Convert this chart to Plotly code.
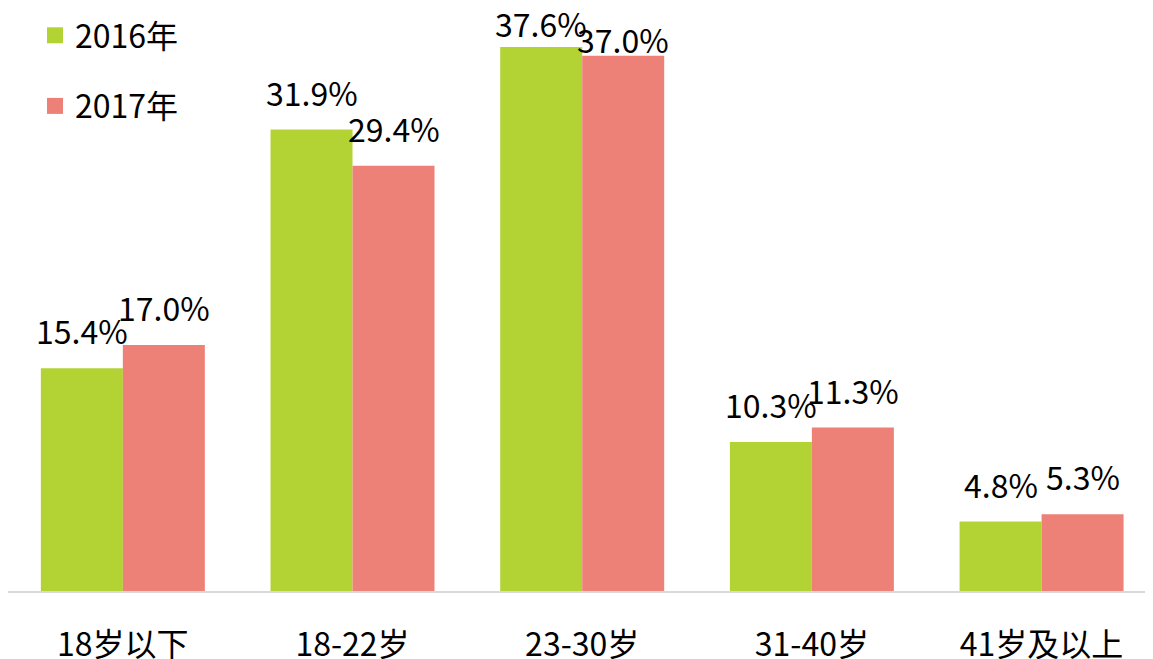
import plotly.graph_objects as go

categories = ["18岁以下", "18-22岁", "23-30岁", "31-40岁", "41岁及以上"]
series_names = ["2016年", "2017年"]
values_2016 = [15.4, 31.9, 37.6, 10.3, 4.8]
values_2017 = [17.0, 29.4, 37.0, 11.3, 5.3]
colors = ["#b3d334", "#ee8177"]

FONT = "Noto Sans CJK SC, Noto Sans, sans-serif"

fig = go.Figure()
for i, (name, vals) in enumerate([(series_names[0], values_2016), (series_names[1], values_2017)]):
    fig.add_trace(go.Bar(
        x=list(range(len(categories))), y=vals, name=name,
        marker=dict(color=colors[i], line=dict(width=0)),
        legendgroup=name, showlegend=False,
    ))
    # legend entry with a larger square symbol
    fig.add_trace(go.Scatter(
        x=[None], y=[None], mode="markers", name=name, legendgroup=name,
        marker=dict(symbol="square", size=19, color=colors[i]),
        showlegend=True,
    ))

# labels near the top of the plot are nudged down (as in the original layout)
label_nudge = {(0, 2): -14, (1, 2): -21}

annotations = []
for i, vals in enumerate([values_2016, values_2017]):
    shift = -41 if i == 0 else 41
    for j, v in enumerate(vals):
        annotations.append(dict(
            x=j, y=v, xref="x", yref="y", text=f"{v:.1f}%",
            showarrow=False, xshift=shift, yshift=13 + label_nudge.get((i, j), 0),
            yanchor="bottom",
            font=dict(family=FONT, size=32, color="#000000"),
        ))

fig.update_layout(
    width=1153, height=659,
    margin=dict(l=0, r=0, t=0, b=76, autoexpand=False),
    paper_bgcolor="white", plot_bgcolor="white",
    barmode="group", bargap=0.286, bargroupgap=0,
    font=dict(family=FONT, size=32, color="#000000"),
    showlegend=True,
    legend=dict(x=27 / 1153, y=1.0, xanchor="left", yanchor="top",
                bgcolor="rgba(0,0,0,0)", tracegroupgap=26,
                font=dict(family=FONT, size=32, color="#000000")),
    annotations=annotations,
)
fig.update_xaxes(
    range=[-0.5, 4.52], tickmode="array", tickvals=list(range(len(categories))),
    ticktext=categories, showline=True, linecolor="#d9d9d9", linewidth=2,
    showgrid=False, zeroline=False, ticks="", ticklabelstandoff=25,
    automargin=False,
    tickfont=dict(family=FONT, size=32, color="#000000"),
)
fig.update_yaxes(range=[0, 40.3], visible=False, showgrid=False, zeroline=False,
                 automargin=False)

fig.write_html("out.html")
